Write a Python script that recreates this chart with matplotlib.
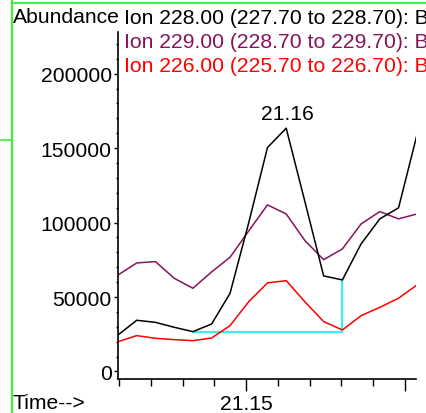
import matplotlib
matplotlib.use("Agg")
import matplotlib.pyplot as plt
from matplotlib.ticker import MultipleLocator, FixedLocator
from matplotlib.lines import Line2D

plt.rcParams['font.family'] = ['Liberation Sans', 'DejaVu Sans']

# retention times (min) of the scans
times = [21.1096, 21.1155, 21.1214, 21.1273, 21.1332, 21.1391, 21.1449,
         21.1508, 21.1567, 21.1626, 21.1685, 21.1744, 21.1803, 21.1862,
         21.1921, 21.1980, 21.2038]

# extracted ion abundances
ion228 = [24500, 34400, 33000, 29700, 26750, 31900, 52500, 100000, 150400,
          163400, 114000, 64200, 61500, 85700, 102500, 109900, 158900]
ion229 = [64800, 72900, 73800, 62600, 55900, 66900, 76700, 94400, 111900,
          105800, 87900, 75100, 82300, 99100, 107400, 102500, 105800]
ion226 = [20000, 24100, 22300, 21400, 20700, 22500, 30800, 46900, 59500,
          61000, 46800, 33500, 27900, 37500, 43100, 49200, 58100]

legend_lines = [
    ("Ion 228.00 (227.70 to 228.70): B", "black"),
    ("Ion 229.00 (228.70 to 229.70): B", "#85145a"),
    ("Ion 226.00 (225.70 to 226.70): B", "#ff0000"),
]

# integration baseline: start / end scan of the peak
base_start, base_end = 4, 12

FS = 15.2

fig = plt.figure(figsize=(4.26, 4.14), dpi=100)
ax = fig.add_axes([118 / 426, 1 - 380 / 414, 298 / 426, 347 / 414])

ax.plot(times, ion229, color="#85145a", lw=1.1)
ax.plot(times, ion226, color="#ff0000", lw=1.1)
ax.plot(times, ion228, color="black", lw=1.1)

# baseline under the peak
bx = [times[base_start], times[base_end], times[base_end]]
by = [ion228[base_start], ion228[base_start], ion228[base_end]]
ax.plot(bx, by, color="#40eef0", lw=1.6, zorder=1)

# apex label
apex = ion228.index(max(ion228))
ax.annotate(f"{times[apex]:.2f}", (times[apex], ion228[apex]),
            xytext=(1, 4), textcoords="offset points",
            ha="center", va="bottom", fontsize=FS)

ax.set_xlim(21.1096, 21.2035)
ax.set_ylim(-5040, 228000)

for s in ("top", "right"):
    ax.spines[s].set_visible(False)
for s in ("left", "bottom"):
    ax.spines[s].set_linewidth(1.2)

ax.yaxis.set_major_locator(MultipleLocator(50000))
ax.yaxis.set_minor_locator(MultipleLocator(10000))
ax.ticklabel_format(axis="y", style="plain", useOffset=False)
ax.xaxis.set_major_locator(FixedLocator([21.15, 21.20]))
ax.xaxis.set_minor_locator(MultipleLocator(0.01))
ax.set_xticklabels(["21.15", ""])

ax.tick_params(axis="y", which="major", length=3, width=1.0, pad=1.5,
               labelsize=FS)
ax.tick_params(axis="y", which="minor", length=1.8, width=1.0)
ax.tick_params(axis="x", which="major", length=8.5, width=1.0, pad=2,
               labelsize=FS)
ax.tick_params(axis="x", which="minor", length=5, width=1.0)

fig.text(12.5 / 426, 1 - 17.5 / 414, "Abundance", fontsize=FS,
         ha="left", va="center")
fig.text(12.5 / 426, 1 - 403.5 / 414, "Time-->", fontsize=FS,
         ha="left", va="center")

for k, (label, col) in enumerate(legend_lines):
    fig.text(124 / 426, 1 - (18 + 24.5 * k) / 414, label, color=col,
             fontsize=FS, ha="left", va="center")

# frame edges at the left and top
green = "#3cf03c"
fig.add_artist(Line2D([11.8 / 426, 11.8 / 426], [0, 1], color=green, lw=1.6))
fig.add_artist(Line2D([11.8 / 426, 1], [1 - 4 / 414, 1 - 4 / 414],
                      color=green, lw=1.4))
fig.add_artist(Line2D([0, 11.8 / 426], [1 - 141 / 414, 1 - 141 / 414],
                      color=green, lw=1.2))

fig.savefig("out.png", dpi=100)
